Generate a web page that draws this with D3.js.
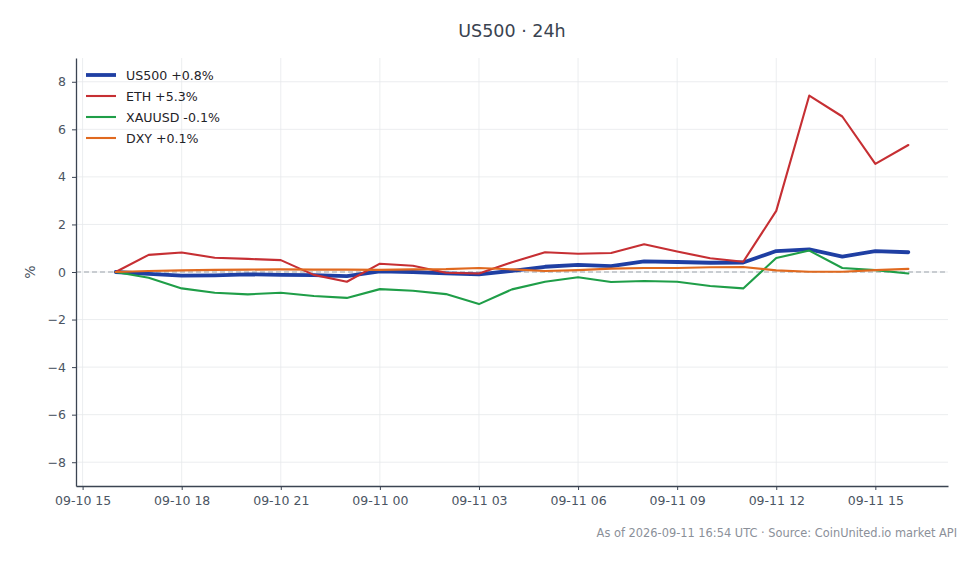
<!DOCTYPE html>
<html>
<head>
<meta charset="utf-8">
<script src="https://cdn.jsdelivr.net/npm/d3@7"></script>
<style>
  body { margin: 0; background: #fff; }
  svg { display: block; font-family: 'DejaVu Sans', sans-serif; }
</style>
</head>
<body>
<div id="wrapper"></div>
<script>
// Data: hourly % change over the last 24h
const times = [
  '2026-09-10T16:00Z', '2026-09-10T17:00Z', '2026-09-10T18:00Z', '2026-09-10T19:00Z',
  '2026-09-10T20:00Z', '2026-09-10T21:00Z', '2026-09-10T22:00Z', '2026-09-10T23:00Z',
  '2026-09-11T00:00Z', '2026-09-11T01:00Z', '2026-09-11T02:00Z', '2026-09-11T03:00Z',
  '2026-09-11T04:00Z', '2026-09-11T05:00Z', '2026-09-11T06:00Z', '2026-09-11T07:00Z',
  '2026-09-11T08:00Z', '2026-09-11T09:00Z', '2026-09-11T10:00Z', '2026-09-11T11:00Z',
  '2026-09-11T12:00Z', '2026-09-11T13:00Z', '2026-09-11T14:00Z', '2026-09-11T15:00Z',
  '2026-09-11T16:00Z',
];
const us500 = [0, -0.08, -0.15, -0.14, -0.1, -0.12, -0.13, -0.17, 0.03, 0.0, -0.06, -0.1,
  0.05, 0.22, 0.3, 0.25, 0.45, 0.42, 0.39, 0.4, 0.88, 0.95, 0.65, 0.88, 0.83];
const eth = [0, 0.72, 0.82, 0.6, 0.55, 0.5, -0.12, -0.41, 0.35, 0.26, -0.03, -0.06,
  0.41, 0.83, 0.77, 0.8, 1.17, 0.86, 0.58, 0.43, 2.57, 7.42, 6.54, 4.55, 5.34];
const xauusd = [0, -0.24, -0.69, -0.87, -0.94, -0.87, -1.01, -1.09, -0.72, -0.79, -0.93, -1.35,
  -0.73, -0.41, -0.22, -0.42, -0.38, -0.41, -0.59, -0.69, 0.59, 0.9, 0.17, 0.08, -0.06];
const dxy = [0, 0.04, 0.07, 0.09, 0.1, 0.11, 0.1, 0.1, 0.09, 0.11, 0.12, 0.17,
  0.11, 0.04, 0.08, 0.14, 0.17, 0.17, 0.2, 0.21, 0.07, 0.01, 0.01, 0.08, 0.13];
const seriesNames = ['US500', 'ETH', 'XAUUSD', 'DXY'];
const legendLabels = ['US500 +0.8%', 'ETH +5.3%', 'XAUUSD -0.1%', 'DXY +0.1%'];
const yTicks = [-8, -6, -4, -2, 0, 2, 4, 6, 8];

const colors = ['#1f3fa3', '#c62f33', '#1f9e48', '#e0691f'];
const widths = [3.8, 2.1, 2.1, 2.1];

const parseTime = d3.isoParse;
const dates = times.map(parseTime);
const series = [us500, eth, xauusd, dxy].map((values, k) => ({
  name: seriesNames[k],
  label: legendLabels[k],
  values: values.map((v, i) => ({ date: dates[i], value: v })),
}));

// Dimensions
const dimensions = {
  width: 980,
  height: 564,
  margin: { top: 58, right: 32, bottom: 78, left: 76 },
};
dimensions.boundedWidth =
  dimensions.width - dimensions.margin.left - dimensions.margin.right;
dimensions.boundedHeight =
  dimensions.height - dimensions.margin.top - dimensions.margin.bottom;

// Scales (5% padding on the time axis)
const extent = d3.extent(dates);
const pad = (extent[1] - extent[0]) * 0.05;
const xScale = d3
  .scaleUtc()
  .domain([new Date(+extent[0] - pad), new Date(+extent[1] + pad)])
  .range([0, dimensions.boundedWidth]);

const yScale = d3
  .scaleLinear()
  .domain([-9, 9])
  .range([dimensions.boundedHeight, 0]);

// Canvas
const wrapper = d3
  .select('#wrapper')
  .append('svg')
  .attr('width', dimensions.width)
  .attr('height', dimensions.height);

const bounds = wrapper
  .append('g')
  .attr('transform', `translate(${dimensions.margin.left}, ${dimensions.margin.top})`);

// Grid
const xTicks = xScale.ticks(d3.utcHour.every(3));
bounds
  .append('g')
  .selectAll('line')
  .data(xTicks)
  .join('line')
  .attr('x1', (d) => xScale(d))
  .attr('x2', (d) => xScale(d))
  .attr('y1', 0)
  .attr('y2', dimensions.boundedHeight)
  .attr('stroke', '#e6e8eb')
  .attr('stroke-width', 0.8);

bounds
  .append('g')
  .selectAll('line')
  .data(yTicks)
  .join('line')
  .attr('x1', 0)
  .attr('x2', dimensions.boundedWidth)
  .attr('y1', (d) => yScale(d))
  .attr('y2', (d) => yScale(d))
  .attr('stroke', '#e6e8eb')
  .attr('stroke-width', 0.8);

// Zero line
bounds
  .append('line')
  .attr('x1', 0)
  .attr('x2', dimensions.boundedWidth)
  .attr('y1', yScale(0))
  .attr('y2', yScale(0))
  .attr('stroke', '#9ca3ab')
  .attr('stroke-width', 1)
  .attr('stroke-dasharray', '5,3');

// Lines
const line = d3
  .line()
  .x((d) => xScale(d.date))
  .y((d) => yScale(d.value));

bounds
  .append('g')
  .selectAll('path')
  .data(series)
  .join('path')
  .attr('d', (d) => line(d.values))
  .attr('fill', 'none')
  .attr('stroke', (d, i) => colors[i])
  .attr('stroke-width', (d, i) => widths[i])
  .attr('stroke-linejoin', 'round')
  .attr('stroke-linecap', 'round');

// Axes
const axisColor = '#3b4452';
const labelColor = '#4b5563';

const xAxis = d3
  .axisBottom(xScale)
  .tickValues(xTicks)
  .tickFormat(d3.utcFormat('%m-%d %H'))
  .tickSize(4)
  .tickPadding(6)
  .tickSizeOuter(0);

const xAxisG = bounds
  .append('g')
  .attr('transform', `translate(0, ${dimensions.boundedHeight})`)
  .call(xAxis);

const yAxis = d3
  .axisLeft(yScale)
  .tickValues(yTicks)
  .tickFormat(d3.format('d'))
  .tickSize(4)
  .tickPadding(6)
  .tickSizeOuter(0);

const yAxisG = bounds.append('g').call(yAxis);

[xAxisG, yAxisG].forEach((g) => {
  g.select('.domain').attr('stroke', axisColor).attr('stroke-width', 1.3);
  g.selectAll('.tick line').attr('stroke', axisColor).attr('stroke-width', 1);
  g.selectAll('.tick text')
    .attr('fill', labelColor)
    .style('font-size', '12.5px')
    .style('font-family', "'DejaVu Sans', sans-serif");
});

// Axis label
wrapper
  .append('text')
  .attr('transform', `translate(35, ${dimensions.margin.top + yScale(0)}) rotate(-90)`)
  .attr('text-anchor', 'middle')
  .attr('fill', labelColor)
  .style('font-size', '14px')
  .text('%');

// Title
wrapper
  .append('text')
  .attr('x', dimensions.margin.left + dimensions.boundedWidth / 2)
  .attr('y', 37)
  .attr('text-anchor', 'middle')
  .attr('fill', '#3a4350')
  .style('font-size', '17.5px')
  .text('US500 \u00b7 24h');

// Legend
const legend = bounds
  .append('g')
  .attr('transform', 'translate(10, 17)')
  .selectAll('g')
  .data(series)
  .join('g')
  .attr('transform', (d, i) => `translate(0, ${i * 21})`);

legend
  .append('line')
  .attr('x1', 0)
  .attr('x2', 30)
  .attr('stroke', (d, i) => colors[i])
  .attr('stroke-width', (d, i) => widths[i]);

legend
  .append('text')
  .attr('x', 40)
  .attr('dy', '0.36em')
  .attr('fill', '#1f2328')
  .style('font-size', '12.6px')
  .text((d) => d.label);

// Footer
wrapper
  .append('text')
  .attr('x', 957)
  .attr('y', 537)
  .attr('text-anchor', 'end')
  .attr('fill', '#8b9099')
  .style('font-size', '11.4px')
  .text('As of 2026-09-11 16:54 UTC \u00b7 Source: CoinUnited.io market API');
</script>
</body>
</html>
